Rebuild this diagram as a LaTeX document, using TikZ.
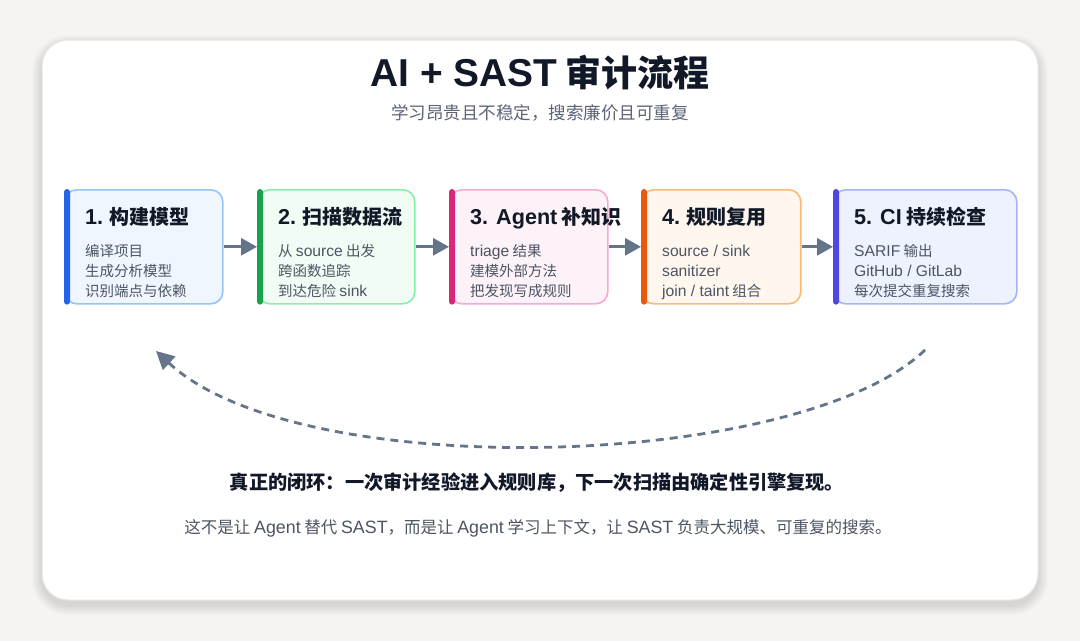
\documentclass[tikz,border=0pt]{standalone}
\usepackage{fontspec}
\setmainfont{Noto Sans CJK SC}
\newfontfamily\latf[Scale=1.08]{Liberation Sans}
\newcommand{\lt}[1]{{\latf #1}}
\usetikzlibrary{arrows.meta}
\definecolor{pagebg}{HTML}{F5F4F2}
\definecolor{cardline}{HTML}{E4E4E2}
\definecolor{ink}{HTML}{111827}
\definecolor{sub}{HTML}{5B6577}
\definecolor{bodyc}{HTML}{4B5563}
\definecolor{arrowc}{HTML}{64748B}
\definecolor{barA}{HTML}{2563EB}\definecolor{fillA}{HTML}{EFF6FF}\definecolor{lineA}{HTML}{93C5FD}
\definecolor{barB}{HTML}{16A34A}\definecolor{fillB}{HTML}{F0FDF4}\definecolor{lineB}{HTML}{86EFAC}
\definecolor{barC}{HTML}{DB2777}\definecolor{fillC}{HTML}{FDF2F8}\definecolor{lineC}{HTML}{F9A8D4}
\definecolor{barD}{HTML}{EA580C}\definecolor{fillD}{HTML}{FFF7ED}\definecolor{lineD}{HTML}{FDBA74}
\definecolor{barE}{HTML}{4F46E5}\definecolor{fillE}{HTML}{EEF2FF}\definecolor{lineE}{HTML}{A5B4FC}
\tikzset{
  stagebox/.style={draw, line width=1.6pt, rounded corners=12pt, inner sep=0pt, minimum height=114pt, anchor=north west},
  stagettl/.style={anchor=base west, inner sep=0pt, text=ink, font=\fontsize{20}{24}\selectfont\bfseries},
  stagebody/.style={anchor=base west, inner sep=0pt, text=bodyc, font=\fontsize{14.5}{18}\selectfont},
  flow/.style={draw=arrowc, line width=3pt, -{Triangle[length=16pt,width=17pt]}},
  loopback/.style={draw=arrowc, line width=2.8pt, dash pattern=on 8pt off 6pt, -{Triangle[length=18pt,width=18pt]}}
}
\newcommand{\stage}[9]{%
  \node[stagebox, draw=#4, fill=#3, minimum width=#9] (#1) at (#2,189) {};
  \fill[#5, rounded corners=3pt] (#1.north west) rectangle ([xshift=6pt]#1.south west);
  \node[stagettl] (#1t) at (#2+21,224) {#6};
  \node[stagebody] (#1a) at (#2+21,256) {#7};
  \node[stagebody] (#1b) at (#2+21,276) {#8};
}
\begin{document}
\begin{tikzpicture}[x=1pt,y=-1pt]
\useasboundingbox (0,0) rectangle (1080,641);
\fill[pagebg] (0,0) rectangle (1080,641);
\foreach \i in {1,...,10} {
  \fill[black, opacity=0.010, rounded corners=26pt+\i pt] (42-\i,40-\i+5) rectangle (1038+\i,600+\i+5);
}
\draw[cardline, fill=white, line width=1pt, rounded corners=26pt] (42,40) rectangle (1038,600);

\node[inner sep=0pt, anchor=base, text=ink, font=\fontsize{36}{40}\selectfont\bfseries] (title) at (540,86) {\lt{AI + SAST} 审计流程};
\node[inner sep=0pt, anchor=base, text=sub, font=\fontsize{17.5}{20}\selectfont] (subtitle) at (540,119) {学习昂贵且不稳定，搜索廉价且可重复};

\stage{b1}{64}{fillA}{lineA}{barA}{\lt{1.} 构建模型}{编译项目}{生成分析模型}{158pt}
\node[stagebody] (b1c) at (85,296) {识别端点与依赖};
\stage{b2}{257}{fillB}{lineB}{barB}{\lt{2.} 扫描数据流}{从 \lt{source} 出发}{跨函数追踪}{157pt}
\node[stagebody] (b2c) at (278,296) {到达危险 \lt{sink}};
\stage{b3}{449}{fillC}{lineC}{barC}{\lt{3. Agent} 补知识}{\lt{triage} 结果}{建模外部方法}{158pt}
\node[stagebody] (b3c) at (470,296) {把发现写成规则};
\stage{b4}{641}{fillD}{lineD}{barD}{\lt{4.} 规则复用}{\lt{source / sink}}{\lt{sanitizer}}{159pt}
\node[stagebody] (b4c) at (662,296) {\lt{join / taint} 组合};
\stage{b5}{833}{fillE}{lineE}{barE}{\lt{5. CI} 持续检查}{\lt{SARIF} 输出}{\lt{GitHub / GitLab}}{183pt}
\node[stagebody] (b5c) at (854,296) {每次提交重复搜索};

\draw[flow] (b1.east) -- (b2.west);
\draw[flow] (b2.east) -- (b3.west);
\draw[flow] (b3.east) -- (b4.west);
\draw[flow] (b4.east) -- (b5.west);

\coordinate (loopstart) at (925,350);
\coordinate (loopend) at (156,351);
\draw[loopback] (loopstart) .. controls (800,470) and (300,485) .. (loopend);

\node[inner sep=0pt, anchor=base, text=ink, font=\fontsize{19.2}{22}\selectfont\bfseries] (closing) at (537,489) {真正的闭环：一次审计经验进入规则库，下一次扫描由确定性引擎复现。};
\node[inner sep=0pt, anchor=base, text=bodyc, font=\fontsize{16.5}{19}\selectfont] (note) at (538,533) {这不是让 \lt{Agent} 替代 \lt{SAST}，而是让 \lt{Agent} 学习上下文，让 \lt{SAST} 负责大规模、可重复的搜索。};
\end{tikzpicture}
\end{document}
